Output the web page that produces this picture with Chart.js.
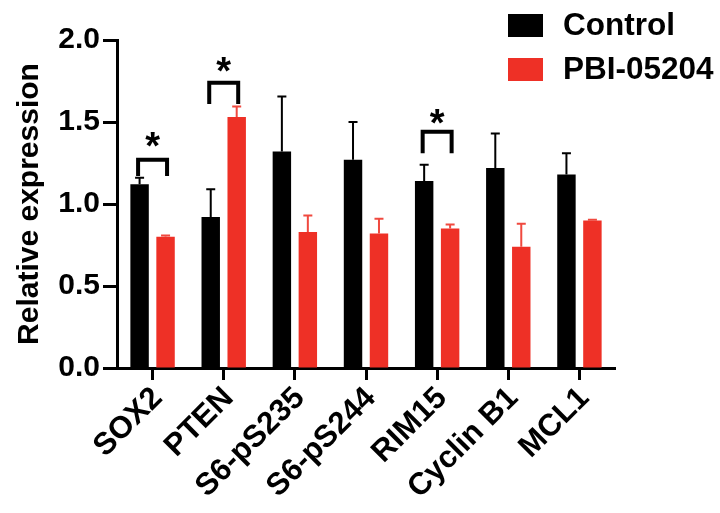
<!DOCTYPE html>
<html>
<head>
<meta charset="utf-8">
<script src="https://cdn.jsdelivr.net/npm/chart.js@4.4.1/dist/chart.umd.min.js"></script>
<style>
html,body{margin:0;padding:0;background:#fff;}
#wrap{width:720px;height:513px;}
</style>
</head>
<body>
<div id="wrap"><canvas id="c" width="720" height="513"></canvas></div>
<script>
const categories = ['SOX2','PTEN','S6-pS235','S6-pS244','RIM15','Cyclin B1','MCL1'];
const seriesNames = ['Control','PBI-05204'];
const controlValues = [1.12, 0.92, 1.32, 1.27, 1.14, 1.22, 1.18];
const controlErrors = [0.04, 0.17, 0.335, 0.23, 0.10, 0.21, 0.13];
const pbiValues = [0.80, 1.53, 0.83, 0.82, 0.85, 0.74, 0.90];
const pbiErrors = [0.008, 0.065, 0.10, 0.09, 0.025, 0.14, 0.004];
const yTicks = [0, 0.5, 1.0, 1.5, 2.0];
const sigCategory = [0, 1, 4];
const sigBracketTop = [1.27, 1.74, 1.44];
const sigBracketLeg = [1.17, 1.61, 1.31];
const sigStarValue = [1.40, 1.86, 1.54];
const sigLabel = ['*','*','*'];

const FONT = "'Liberation Sans', Arial, Helvetica, sans-serif";
const BLACK = '#000000';
const RED = '#EE3026';
const RED_ERR = '#F0493F';

const errorBarPlugin = {
  id: 'errorBars',
  afterDatasetsDraw(chart) {
    const ctx = chart.ctx;
    const ys = chart.scales.y;
    chart.data.datasets.forEach((ds, i) => {
      const meta = chart.getDatasetMeta(i);
      meta.data.forEach((el, j) => {
        const top = ys.getPixelForValue(ds.data[j] + ds.errors[j]);
        ctx.save();
        ctx.strokeStyle = ds.errColor;
        ctx.lineWidth = 2;
        ctx.beginPath();
        ctx.moveTo(el.x, el.y);
        ctx.lineTo(el.x, top);
        ctx.moveTo(el.x - 4.5, top);
        ctx.lineTo(el.x + 4.5, top);
        ctx.stroke();
        ctx.restore();
      });
    });
  }
};

const sigPlugin = {
  id: 'sig',
  afterDraw(chart) {
    const ctx = chart.ctx;
    const ys = chart.scales.y;
    const m0 = chart.getDatasetMeta(0), m1 = chart.getDatasetMeta(1);
    sigCategory.forEach((ci, k) => {
      const x0 = m0.data[ci].x - 1.5;
      const x1 = m1.data[ci].x + 1.5;
      const yt = ys.getPixelForValue(sigBracketTop[k]);
      const yl = ys.getPixelForValue(sigBracketLeg[k]);
      ctx.save();
      ctx.strokeStyle = BLACK;
      ctx.lineWidth = 4;
      ctx.lineJoin = 'miter';
      ctx.lineCap = 'butt';
      ctx.beginPath();
      ctx.moveTo(x0, yl);
      ctx.lineTo(x0, yt);
      ctx.lineTo(x1, yt);
      ctx.lineTo(x1, yl);
      ctx.stroke();
      ctx.fillStyle = BLACK;
      ctx.font = 'bold 38px ' + FONT;
      ctx.textAlign = 'center';
      ctx.textBaseline = 'alphabetic';
      const ys2 = ys.getPixelForValue(sigStarValue[k]);
      ctx.fillText(sigLabel[k], (x0 + x1) / 2, ys2 + 21);
      ctx.restore();
    });
  }
};

const legendPlugin = {
  id: 'customLegend',
  afterDraw(chart) {
    const ctx = chart.ctx;
    const rows = [{y: 14}, {y: 58}];
    chart.data.datasets.forEach((ds, i) => {
      const y = rows[i].y;
      ctx.save();
      ctx.fillStyle = ds.backgroundColor;
      ctx.fillRect(508, y, 35, 23);
      ctx.fillStyle = BLACK;
      ctx.font = 'bold 31.5px ' + FONT;
      ctx.textAlign = 'left';
      ctx.textBaseline = 'middle';
      ctx.fillText(ds.label, 563, y + 12);
      ctx.restore();
    });
  }
};

new Chart(document.getElementById('c'), {
  type: 'bar',
  data: {
    labels: categories,
    datasets: [
      {label: seriesNames[0], data: controlValues, errors: controlErrors, backgroundColor: BLACK, errColor: BLACK,
       categoryPercentage: 0.73, barPercentage: 0.71},
      {label: seriesNames[1], data: pbiValues, errors: pbiErrors, backgroundColor: RED, errColor: RED_ERR,
       categoryPercentage: 0.73, barPercentage: 0.71}
    ]
  },
  options: {
    responsive: false,
    animation: false,
    layout: {padding: {left: 0, right: 105, top: 40, bottom: 0}},
    plugins: {legend: {display: false}, tooltip: {enabled: false}},
    scales: {
      x: {
        offset: true,
        grid: {display: true, drawOnChartArea: false, offset: false, tickLength: 12, tickWidth: 3, tickColor: BLACK},
        border: {display: true, color: BLACK, width: 3},
        ticks: {color: BLACK, font: {family: FONT, size: 31, weight: 'bold'}, minRotation: 45, maxRotation: 45, padding: 0, labelOffset: 5, autoSkip: false},
        afterFit(s) { s.height = 145; s.paddingLeft = 0; s.paddingRight = 0; }
      },
      y: {
        min: 0, max: 2,
        afterBuildTicks(s) { s.ticks = yTicks.map(v => ({value: v})); },
        grid: {display: true, drawOnChartArea: false, tickLength: 14, tickWidth: 3, tickColor: BLACK},
        border: {display: true, color: BLACK, width: 3},
        ticks: {color: BLACK, font: {family: FONT, size: 30, weight: 'bold'}, padding: 3,
                callback: v => Number(v).toFixed(1)},
        title: {display: true, text: 'Relative expression', color: BLACK,
                font: {family: FONT, size: 30, weight: 'bold'}, padding: {top: 12, bottom: 0}},
        afterFit(s) { s.width = 117; s.paddingTop = 0; s.paddingBottom = 0; }
      }
    }
  },
  plugins: [errorBarPlugin, sigPlugin, legendPlugin]
});
</script>
</body>
</html>
